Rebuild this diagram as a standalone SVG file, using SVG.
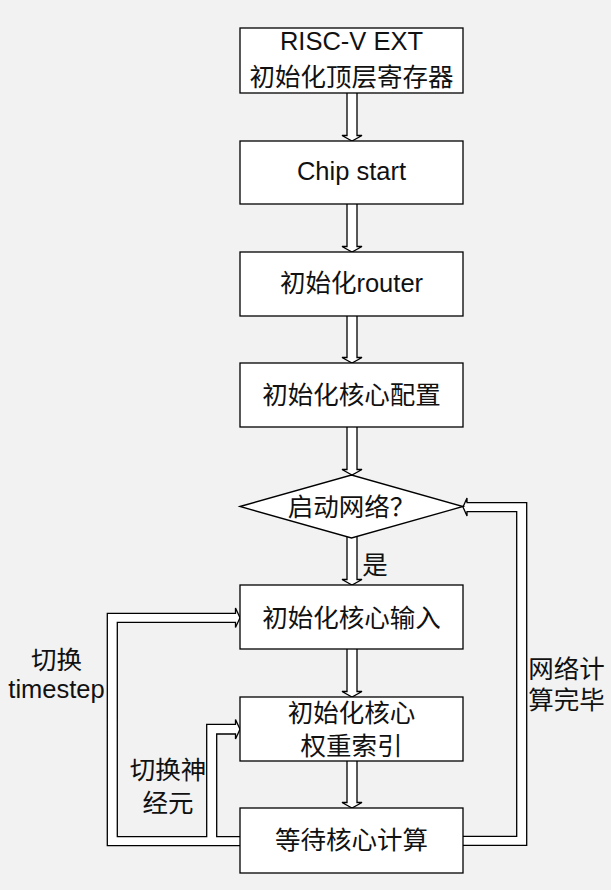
<svg xmlns="http://www.w3.org/2000/svg" width="611" height="890" viewBox="0 0 611 890">
<style>
.bg{fill:#f2f2f2}
.n{fill:#fff;stroke:#000;stroke-width:1.3}
.c{fill:#fff;stroke:#000;stroke-width:1.3;stroke-linejoin:miter}
text{font-family:"Liberation Sans","Noto Sans CJK SC",sans-serif;font-size:25.5px;fill:#111;text-anchor:middle}
</style>
<rect class="bg" x="0" y="0" width="611" height="890"/>
<g id="connectors">
<path class="c" d="M347,93 L347,135.5 L342,135.5 L352,141 L362,135.5 L357,135.5 L357,93"/>
<path class="c" d="M347,204 L347,246.5 L342,246.5 L352,252 L362,246.5 L357,246.5 L357,204"/>
<path class="c" d="M347,316 L347,357.5 L342,357.5 L352,363 L362,357.5 L357,357.5 L357,316"/>
<path class="c" d="M347,427 L347,469.5 L342,469.5 L352,475 L362,469.5 L357,469.5 L357,427"/>
<path class="c" d="M347,530 L347,579.5 L342,579.5 L352,585 L362,579.5 L357,579.5 L357,530"/>
<path class="c" d="M347,649 L347,691.5 L342,691.5 L352,697 L362,691.5 L357,691.5 L357,649"/>
<path class="c" d="M347,761 L347,802.5 L342,802.5 L352,808 L362,802.5 L357,802.5 L357,761"/>
<path class="c" d="M245,845.7 L107.3,845.7 L107.3,613.3 L235.5,613.3 L235.5,608 L240,617.8 L235.5,627.5 L235.5,622.3 L117.3,622.3 L117.3,836.7 L206.7,836.7 L206.7,724.3 L235.5,724.3 L235.5,719.5 L240,729.2 L235.5,739 L235.5,734 L216.7,734 L216.7,836.7 L245,836.7"/>
<path class="c" d="M458,836.3 L516.7,836.3 L516.7,511.7 L467,511.7 L467,516 L463,507 L467,498 L467,502.7 L526.7,502.7 L526.7,845.3 L458,845.3"/>
</g>
<g id="n1"><rect class="n" x="240" y="28" width="223" height="65"/><text x="351.5" y="50">RISC-V EXT</text><text x="351.5" y="86">初始化顶层寄存器</text></g>
<g id="n2"><rect class="n" x="240" y="141" width="223" height="63"/><text x="351.5" y="179.5">Chip start</text></g>
<g id="n3"><rect class="n" x="240" y="252" width="223" height="64"/><text x="351.5" y="292">初始化router</text></g>
<g id="n4"><rect class="n" x="240" y="363" width="223" height="64"/><text x="351.5" y="403.5">初始化核心配置</text></g>
<g id="n5"><polygon class="n" points="240,506.5 351.5,475 463,506.5 351.5,538"/><text x="351.5" y="515.5">启动网络？</text></g>
<g id="n6"><rect class="n" x="240" y="585" width="223" height="64"/><text x="351.5" y="627">初始化核心输入</text></g>
<g id="n7"><rect class="n" x="240" y="697" width="223" height="64"/><text x="351.5" y="721.5">初始化核心</text><text x="351.5" y="755">权重索引</text></g>
<g id="n8"><rect class="n" x="240" y="808" width="223" height="65"/><text x="351.5" y="848.5">等待核心计算</text></g>
<g id="labels">
<text x="375" y="574">是</text>
<text x="56.5" y="668.5">切换</text>
<text x="56.5" y="698">timestep</text>
<text x="168" y="778.5">切换神</text>
<text x="168" y="811.5">经元</text>
<text x="566.5" y="678">网络计</text>
<text x="566.5" y="708.5">算完毕</text>
</g>
</svg>
